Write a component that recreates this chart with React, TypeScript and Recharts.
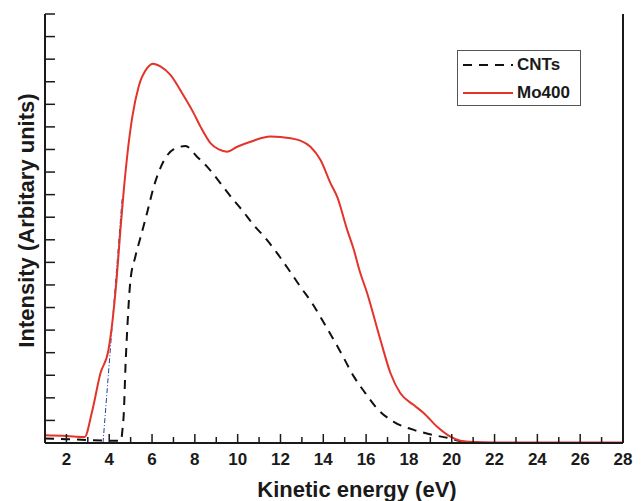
import React from "react";
import { LineChart, Line, XAxis, YAxis } from "recharts";

// Mo400 (red solid)
const moX = [1, 2, 2.85, 3.2, 3.59, 3.96, 4.14, 4.34, 4.52, 4.68, 4.85, 5.07, 5.38, 5.77, 6.05, 6.39, 6.86, 7.4, 7.95, 8.27, 8.74, 9.12, 9.5, 9.98, 10.6, 11.53, 12.47, 12.93, 13.4, 13.87, 14.34, 14.65, 15.12, 15.43, 15.66, 16.05, 16.67, 17.14, 17.6, 18.23, 18.7, 19.32, 19.94, 20.4, 21, 22, 28];
const moY = [0.34, 0.31, 0.27, 1.4, 3.09, 4.1, 5.3, 7.2, 9.4, 11.2, 12.8, 14.4, 15.8, 16.6, 16.8, 16.68, 16.3, 15.5, 14.6, 14.0, 13.27, 13.0, 12.9, 13.12, 13.34, 13.57, 13.5, 13.39, 13.12, 12.53, 11.5, 10.9, 9.43, 8.55, 7.74, 6.63, 4.56, 3.09, 2.2, 1.68, 1.32, 0.72, 0.28, 0.1, 0.04, 0.02, 0.02];

// CNTs (black dashed)
const cntX = [1, 2, 3, 4, 4.55, 4.62, 4.68, 4.76, 4.84, 4.99, 5.22, 5.46, 5.77, 6.08, 6.55, 7.0, 7.56, 8.1, 8.57, 9.2, 9.74, 10.2, 10.75, 11.3, 11.85, 12.34, 12.93, 13.48, 13.95, 14.41, 14.88, 15.43, 15.97, 16.5, 17.29, 18.23, 19.16, 19.94, 20.5, 21.5];
const cntY = [0.2, 0.17, 0.13, 0.1, 0.1, 0.6, 1.3, 3.4, 5.0, 7.2, 8.25, 9.1, 10.2, 11.35, 12.5, 13.0, 13.15, 12.68, 12.24, 11.5, 10.84, 10.32, 9.65, 9.07, 8.4, 7.74, 6.92, 6.19, 5.45, 4.7, 3.9, 2.94, 2.2, 1.54, 0.94, 0.58, 0.35, 0.2, 0.05, 0.0];

// onset tangent (blue dash-dot)
const tanX = [3.71, 4.6];
const tanY = [0, 10.8];

const xTicks = Array.from({ length: 28 }, (_, i) => i + 1);
const yTicks = Array.from({ length: 20 }, (_, i) => i);

const mo = moX.map((x, i) => ({ x, y: moY[i] }));
const cnt = cntX.map((x, i) => ({ x, y: cntY[i] }));
const tan = tanX.map((x, i) => ({ x, y: tanY[i] }));

const FONT = "'Liberation Sans', Arial, Helvetica, sans-serif";
const INK = "#1a1a1a";

function BottomTick(props: any) {
  const { x, y, payload } = props;
  const even = payload.value % 2 === 0;
  return (
    <g>
      <line x1={x} x2={x} y1={y} y2={y - (even ? 9 : 6)} stroke={INK} strokeWidth={1.5} />
      {even && (
        <text x={x} y={y + 22} textAnchor="middle" fontFamily={FONT} fontWeight="bold" fontSize={17} fill={INK}>
          {payload.value}
        </text>
      )}
    </g>
  );
}

function TopTick(props: any) {
  const { x, y } = props;
  return <line x1={x} x2={x} y1={y} y2={y + 4} stroke={INK} strokeWidth={1.2} />;
}

function LeftTick(props: any) {
  const { x, y } = props;
  return <line x1={x} x2={x + 10} y1={y} y2={y} stroke={INK} strokeWidth={1.5} />;
}

function RightTick(props: any) {
  const { x, y } = props;
  return <line x1={x} x2={x - 4} y1={y} y2={y} stroke={INK} strokeWidth={1.2} />;
}

function LegendBox() {
  const row = { display: "flex", alignItems: "center", height: 28 } as const;
  return (
    <div
      style={{
        position: "absolute",
        left: 457,
        top: 50,
        width: 124,
        height: 56,
        border: "1px solid #555",
        boxSizing: "border-box",
        fontFamily: FONT,
        fontWeight: "bold",
        fontSize: 17,
        color: INK,
        background: "#fff",
      }}
    >
      <div style={row}>
        <svg width={54} height={10} style={{ marginLeft: 5 }}>
          <line x1={0} x2={50} y1={5} y2={5} stroke="#111" strokeWidth={2} strokeDasharray="9 7" />
        </svg>
        <span>CNTs</span>
      </div>
      <div style={row}>
        <svg width={54} height={10} style={{ marginLeft: 5 }}>
          <line x1={0} x2={50} y1={5} y2={5} stroke="#e3342a" strokeWidth={2} />
        </svg>
        <span>Mo400</span>
      </div>
    </div>
  );
}

export default function App() {
  return (
    <div style={{ position: "absolute", left: 0, top: 0, width: 642, height: 501, background: "#fff" }}>
      <LineChart width={642} height={501} margin={{ top: 14, right: 0, bottom: 0, left: 0 }}>
        <XAxis
          xAxisId="b"
          dataKey="x"
          type="number"
          domain={[1, 28]}
          ticks={xTicks}
          interval={0}
          height={58}
          tickSize={0}
          tickMargin={0}
          tickLine={false}
          axisLine={{ stroke: INK, strokeWidth: 2 }}
          tick={<BottomTick />}
          allowDataOverflow
          label={{
            value: "Kinetic energy (eV)",
            position: "center",
            dx: 23,
            dy: 17,
            style: { fontFamily: FONT, fontWeight: "bold", fontSize: 22, fill: INK },
          }}
        />
        <XAxis
          xAxisId="t"
          orientation="top"
          dataKey="x"
          type="number"
          domain={[1, 28]}
          ticks={xTicks}
          interval={0}
          height={0}
          tickSize={0}
          tickMargin={0}
          tickLine={false}
          axisLine={{ stroke: INK, strokeWidth: 2 }}
          tick={<TopTick />}
        />
        <YAxis
          yAxisId="l"
          type="number"
          domain={[0, 19]}
          ticks={yTicks}
          interval={0}
          width={45}
          tickSize={0}
          tickMargin={0}
          tickLine={false}
          axisLine={{ stroke: INK, strokeWidth: 2 }}
          tick={<LeftTick />}
          allowDataOverflow
          label={{
            value: "Intensity (Arbitary units)",
            angle: -90,
            position: "center",
            dx: 4,
            dy: -8,
            style: { fontFamily: FONT, fontWeight: "bold", fontSize: 22, fill: INK, textAnchor: "middle" },
          }}
        />
        <YAxis
          yAxisId="r"
          orientation="right"
          type="number"
          domain={[0, 19]}
          ticks={yTicks}
          interval={0}
          width={19}
          tickSize={0}
          tickMargin={0}
          tickLine={false}
          axisLine={{ stroke: INK, strokeWidth: 2 }}
          tick={<RightTick />}
        />
        <Line
          xAxisId="b"
          yAxisId="l"
          data={tan}
          dataKey="y"
          type="linear"
          stroke="#2d3f9e"
          strokeWidth={1}
          strokeDasharray="5 2 1 2"
          dot={false}
          isAnimationActive={false}
        />
        <Line
          xAxisId="b"
          yAxisId="l"
          data={cnt}
          dataKey="y"
          type="monotone"
          stroke="#111"
          strokeWidth={2}
          strokeDasharray="9 7"
          dot={false}
          isAnimationActive={false}
        />
        <Line
          xAxisId="b"
          yAxisId="l"
          data={mo}
          dataKey="y"
          type="monotone"
          stroke="#e3342a"
          strokeWidth={2}
          dot={false}
          isAnimationActive={false}
        />
      </LineChart>
      <LegendBox />
    </div>
  );
}
